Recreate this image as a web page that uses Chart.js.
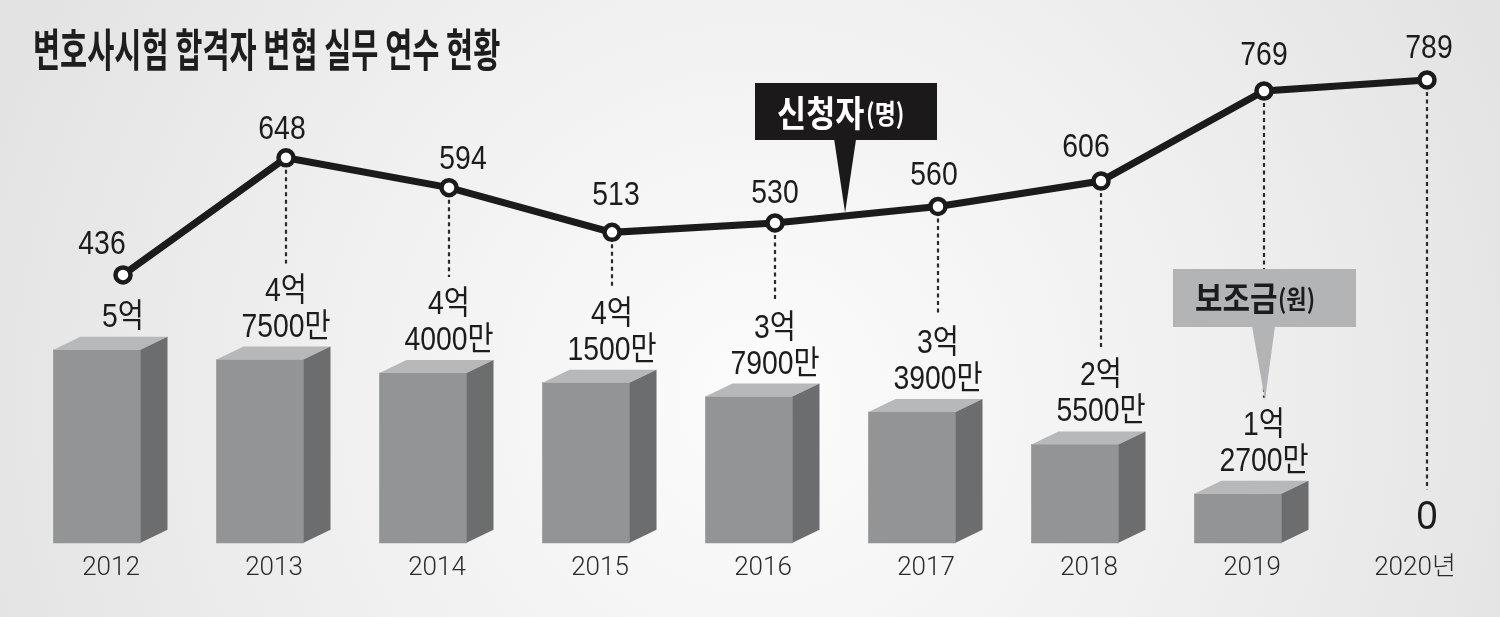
<!DOCTYPE html>
<html><head><meta charset="utf-8">
<script src="https://cdn.jsdelivr.net/npm/chart.js@4/dist/chart.umd.min.js"></script>
<style>html,body{margin:0;padding:0;background:#e8e8e8;overflow:hidden}canvas{display:block}</style>
</head><body><canvas id="c" width="1500" height="617"></canvas>
<script>
// ---- data ----
const years = ['2012','2013','2014','2015','2016','2017','2018','2019','2020년'];
const applicants = [436, 648, 594, 513, 530, 560, 606, 769, 789];      // 신청자(명)
const subsidyMan = [50000, 47500, 44000, 41500, 37900, 33900, 25500, 12700, 0]; // 보조금(만원)
const titleText = '변호사시험 합격자 변협 실무 연수 현황';
const lineName = '신청자', lineUnit = '(명)';
const barName = '보조금', barUnit = '(원)';

// ---- style / layout options ----
const labelNudge = [[-21,-30],[-4,-28],[14,-28],[4,-36],[0,-29],[-4,-31],[-15,-33],[0,-35],[2,-31]];
const BAR_SHIFT = -26, DEPTH_X = 27, DEPTH_Y = 13;
const NUM_FONT = '33px "Liberation Sans", "Noto Sans CJK KR", sans-serif';
const KR_BOLD = (s) => 'bold ' + s + 'px "Noto Sans CJK KR", sans-serif';

function fmtSubsidy(v){
  if (v === 0) return ['0'];
  const eok = Math.floor(v/10000), man = v % 10000;
  const out = [eok + '억'];
  if (man) out.push(man + '만');
  return out;
}
function sText(ctx, t, x, y, sx){
  ctx.save(); ctx.translate(x, y); ctx.scale(sx, 1); ctx.fillText(t, 0, 0); ctx.restore();
}

const bgPlugin = {
  id: 'bg',
  beforeDraw(chart){
    const c = chart.ctx, w = chart.width, h = chart.height;
    c.save();
    const g = c.createRadialGradient(760, 400, 30, 760, 400, 820);
    g.addColorStop(0, '#fbfbfb');
    g.addColorStop(0.55, '#efefef');
    g.addColorStop(1, '#e3e3e3');
    c.fillStyle = g; c.fillRect(0, 0, w, h);
    c.restore();
  }
};

const bar3d = {
  id: 'bar3d',
  beforeDatasetDraw(chart, args){
    if (chart.data.datasets[args.index].type !== 'bar') return;
    chart.ctx.save(); chart.ctx.translate(BAR_SHIFT, 0);
  },
  afterDatasetDraw(chart, args){
    if (chart.data.datasets[args.index].type !== 'bar') return;
    const c = chart.ctx;
    args.meta.data.forEach((el, i) => {
      if (!subsidyMan[i]) return;
      const l = el.x - el.width/2, r = el.x + el.width/2, t = el.y, b = el.base;
      c.fillStyle = '#b7b8ba';
      c.beginPath(); c.moveTo(l, t); c.lineTo(l+DEPTH_X, t-DEPTH_Y); c.lineTo(r+DEPTH_X, t-DEPTH_Y); c.lineTo(r, t); c.closePath(); c.fill();
      c.fillStyle = '#6c6d6f';
      c.beginPath(); c.moveTo(r, t); c.lineTo(r+DEPTH_X, t-DEPTH_Y); c.lineTo(r+DEPTH_X, b-DEPTH_Y); c.lineTo(r, b); c.closePath(); c.fill();
    });
    c.restore();
  }
};

const annot = {
  id: 'annot',
  afterDatasetsDraw(chart){
    const c = chart.ctx;
    const xs = chart.scales.x, y1 = chart.scales.y, y2 = chart.scales.y2;
    const lineMeta = chart.getDatasetMeta(0);
    c.save();
    c.textAlign = 'center'; c.textBaseline = 'middle'; c.fillStyle = '#1c1c1c';
    subsidyMan.forEach((v, i) => {
      const x = xs.getPixelForValue(i);
      const backTop = y2.getPixelForValue(v) - DEPTH_Y;
      const lines = fmtSubsidy(v);
      let firstCenter;
      if (v === 0) {
        c.font = '41px "Liberation Sans", sans-serif';
        firstCenter = backTop - 12;
        sText(c, lines[0], x, firstCenter, 0.92);
      } else {
        c.font = NUM_FONT;
        const lastCenter = backTop - 19;
        firstCenter = lastCenter - (lines.length-1)*36;
        lines.forEach((s, k) => sText(c, s, x, firstCenter + k*36, 0.86));
      }
      const p = lineMeta.data[i];
      const yStart = p.y + 12, yEnd = firstCenter - 28;
      if (yEnd - yStart > 20) {
        c.save();
        c.strokeStyle = '#2a2a2a'; c.lineWidth = 2.2; c.setLineDash([4, 3.5]);
        c.beginPath(); c.moveTo(x, yStart); c.lineTo(x, yEnd); c.stroke();
        c.restore();
      }
    });
    c.font = NUM_FONT; c.fillStyle = '#1c1c1c';
    applicants.forEach((v, i) => {
      const p = lineMeta.data[i];
      sText(c, String(v), p.x + labelNudge[i][0], p.y + labelNudge[i][1], 0.86);
    });
    // callout: 신청자(명)
    {
      const f = 0.43, i0 = 4;
      const ax = xs.getPixelForValue(i0) + f*(xs.getPixelForValue(i0+1) - xs.getPixelForValue(i0));
      const ay = y1.getPixelForValue(applicants[i0] + f*(applicants[i0+1]-applicants[i0]));
      c.fillStyle = '#1b1919';
      c.fillRect(755, 83, 182, 57);
      c.beginPath(); c.moveTo(ax-11, 139); c.lineTo(ax+11, 139); c.lineTo(ax, ay-3); c.closePath(); c.fill();
      c.fillStyle = '#ffffff'; c.textAlign = 'left';
      c.font = KR_BOLD(36); sText(c, lineName, 777, 113, 0.88);
      c.font = KR_BOLD(27); sText(c, lineUnit, 866, 114, 0.85);
    }
    // callout: 보조금(원)
    {
      const ax = xs.getPixelForValue(7);
      c.fillStyle = '#b3b4b6';
      c.fillRect(1173, 269, 183, 58);
      c.beginPath(); c.moveTo(ax-12, 326); c.lineTo(ax+11, 326); c.lineTo(ax+1, 400); c.closePath(); c.fill();
      c.fillStyle = '#1c1c1c'; c.textAlign = 'left';
      c.font = KR_BOLD(34); sText(c, barName, 1195, 298, 0.88);
      c.font = KR_BOLD(26); sText(c, barUnit, 1278, 299, 0.85);
    }
    // title
    c.fillStyle = '#1e1e1e'; c.textAlign = 'left'; c.textBaseline = 'middle';
    c.font = KR_BOLD(45);
    sText(c, titleText, 33, 50, 0.655);
    c.restore();
  }
};

new Chart(document.getElementById('c').getContext('2d'), {
  data: {
    labels: years,
    datasets: [
      { type: 'line', label: lineName + lineUnit, data: applicants, yAxisID: 'y',
        borderColor: '#1b1b1b', borderWidth: 7, tension: 0, clip: false,
        pointRadius: 7.5, pointBorderWidth: 4.5, pointBackgroundColor: '#ffffff', pointBorderColor: '#1b1b1b', order: 0 },
      { type: 'bar', label: barName + barUnit, data: subsidyMan, yAxisID: 'y2', clip: false,
        backgroundColor: (ctx) => ctx.raw ? '#939496' : 'rgba(0,0,0,0)', borderWidth: 0, barThickness: 87, order: 1 }
    ]
  },
  options: {
    responsive: false, animation: false, devicePixelRatio: 1,
    layout: { padding: { left: 123, right: 73, top: 20, bottom: 23 } },
    plugins: { legend: { display: false }, tooltip: { enabled: false }, title: { display: false } },
    scales: {
      x: { offset: false, grid: { display: false, drawTicks: false }, border: { display: false },
           ticks: { padding: 10, labelOffset: -12, color: '#2a2a2a', autoSkip: false, maxRotation: 0,
                    font: { family: 'Roboto, "Noto Sans CJK KR", sans-serif', size: 26, weight: 300 } } },
      y: { display: false, min: -49.2, max: 897.6 },
      y2: { display: false, min: 0, max: 135490 }
    }
  },
  plugins: [bgPlugin, bar3d, annot]
});
</script>
</body></html>
